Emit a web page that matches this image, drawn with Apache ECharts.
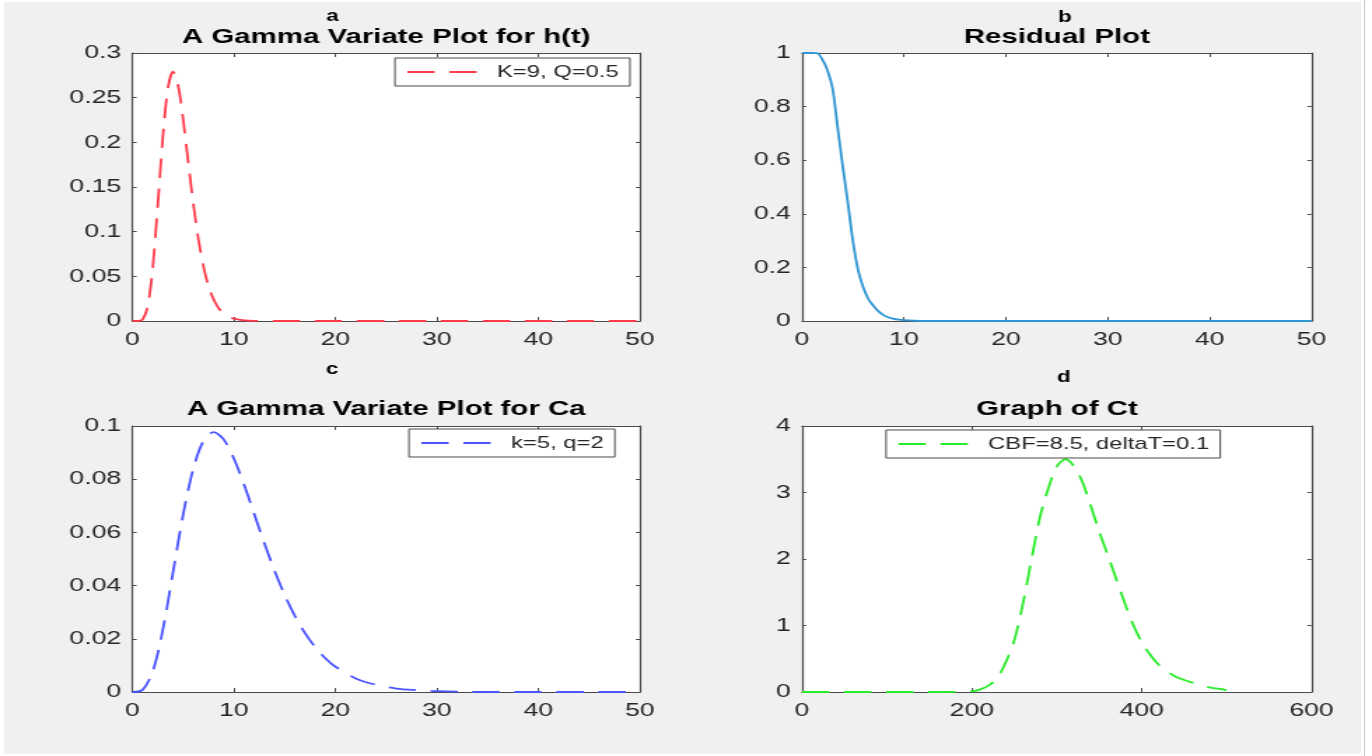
<!DOCTYPE html>
<html>
<head>
<meta charset="utf-8">
<title>Gamma variate, residual and tissue curves</title>
<script src="https://cdn.jsdelivr.net/npm/echarts@6/dist/echarts.min.js"></script>
<style>
  html, body { margin: 0; padding: 0; background: #ffffff; overflow: hidden; }
  #panel { position: absolute; left: 4px; top: 2px; width: 1357px; height: 752px; background: #f0f0f0; }
  #edge { position: absolute; left: 1364px; top: 0; width: 1px; height: 756px; background: #c8c8c8; }
  #chart { position: absolute; left: 0; top: 0; width: 980px; height: 756px; transform: scaleX(1.4); transform-origin: 0 0; }
</style>
</head>
<body>
<div id="panel"></div>
<div id="edge"></div>
<div id="chart"></div>
<script>
// (a) gamma variate h(t), K=9, Q=0.5
const hT = [0, 0.5, 1, 1.5, 2, 2.5, 3, 3.5, 4, 4.5, 5, 5.5, 6, 6.5, 7, 7.5, 8, 8.5, 9, 9.5, 10, 11, 12, 15, 20, 25, 30, 35, 40, 45, 50];
const hVals = [0, 0, 0.0017, 0.0162, 0.0595, 0.1306, 0.2065, 0.2608, 0.2791, 0.2635, 0.2252, 0.1775, 0.1310, 0.0915, 0.0609, 0.0389, 0.0240, 0.0143, 0.0083, 0.0047, 0.0026, 0.0008, 0.0002, 0, 0, 0, 0, 0, 0, 0, 0];

// (b) residual function R(t)
const resT = [0, 0.5, 1, 1.5, 2, 2.5, 3, 3.5, 4, 4.5, 5, 5.5, 6, 6.5, 7, 7.5, 8, 8.5, 9, 9.5, 10, 11, 12, 15, 20, 25, 30, 35, 40, 45, 50];
const resVals = [1, 1, 1, 0.999, 0.975, 0.935, 0.866, 0.72, 0.575, 0.44, 0.295, 0.19, 0.126, 0.082, 0.057, 0.036, 0.022, 0.013, 0.008, 0.005, 0.003, 0.001, 0, 0, 0, 0, 0, 0, 0, 0, 0];

// (c) gamma variate Ca, k=5, q=2
const caT = [0, 1, 2, 3, 4, 5, 6, 7, 8, 9, 10, 11, 12, 13, 14, 15, 16, 17, 18, 19, 20, 22, 24, 26, 28, 30, 33, 36, 40, 45, 49];
const caVals = [0, 0.0008, 0.0077, 0.0235, 0.0451, 0.0668, 0.0840, 0.0944, 0.0977, 0.0949, 0.0877, 0.0779, 0.0669, 0.0559, 0.0456, 0.0365, 0.0286, 0.0221, 0.0169, 0.0127, 0.0095, 0.0051, 0.0027, 0.0013, 0.0007, 0.0003, 0.0001, 0, 0, 0, 0];

// (d) tissue concentration Ct, CBF=8.5, deltaT=0.1
const ctT = [0, 50, 100, 150, 200, 210, 220, 230, 240, 250, 260, 270, 280, 290, 300, 310, 320, 330, 340, 350, 360, 370, 380, 390, 400, 410, 420, 430, 440, 450, 460, 470, 480, 490, 500];
const ctVals = [0, 0, 0, 0, 0.01, 0.04, 0.10, 0.21, 0.45, 0.78, 1.32, 1.98, 2.62, 3.06, 3.39, 3.50, 3.40, 3.16, 2.80, 2.41, 2.06, 1.70, 1.34, 1.01, 0.75, 0.56, 0.41, 0.31, 0.23, 0.18, 0.14, 0.10, 0.07, 0.05, 0.03];

// axis ranges per panel: [xMin, xMax, xStep, yMin, yMax, yStep]
const axisA = [0, 50, 10, 0, 0.3, 0.05];
const axisB = [0, 50, 10, 0, 1, 0.2];
const axisC = [0, 50, 10, 0, 0.1, 0.02];
const axisD = [0, 600, 200, 0, 4, 1];

const panelLetters = ['a', 'b', 'c', 'd'];
const panelTitles = ['A Gamma Variate Plot for h(t)', 'Residual Plot', 'A Gamma Variate Plot for Ca', 'Graph of Ct'];
const seriesNames = ['K=9, Q=0.5', 'Residual', 'k=5, q=2', 'CBF=8.5, deltaT=0.1'];

const FONT = '"Liberation Sans", Arial, Helvetica, sans-serif';
const AXIS_COLOR = '#4a4a4a';
const TEXT_COLOR = '#262626';
const DASH = [19.5, 10.5];
const LINE_W = 1.8;

const grids = [
  { left: 94.6, top: 53, width: 362.5, height: 268 },
  { left: 572.9, top: 53, width: 363.9, height: 268 },
  { left: 94.6, top: 426, width: 362.5, height: 266 },
  { left: 572.9, top: 426, width: 363.9, height: 266 }
];

function fmt(v) { return String(Math.round(v * 1e6) / 1e6); }

function xAxes(i, r) {
  const base = {
    type: 'value', gridIndex: i, min: r[0], max: r[1], interval: r[2],
    axisLine: { show: true, onZero: false, lineStyle: { color: AXIS_COLOR, width: 1.2 } },
    axisTick: { show: true, inside: true, length: 4, lineStyle: { color: AXIS_COLOR, width: 1 } },
    splitLine: { show: false }
  };
  return [
    Object.assign({}, base, { position: 'bottom',
      axisLabel: { show: true, margin: 9, fontSize: 19, fontFamily: FONT, color: TEXT_COLOR, showMinLabel: true, showMaxLabel: true, formatter: fmt } }),
    Object.assign({}, base, { position: 'top', axisLabel: { show: false } })
  ];
}

function yAxes(i, r) {
  const base = {
    type: 'value', gridIndex: i, min: r[3], max: r[4], interval: r[5],
    axisLine: { show: true, onZero: false, lineStyle: { color: AXIS_COLOR, width: 1.2 } },
    axisTick: { show: true, inside: true, length: 3, lineStyle: { color: AXIS_COLOR, width: 1 } },
    splitLine: { show: false }
  };
  return [
    Object.assign({}, base, { position: 'left',
      axisLabel: { show: true, margin: 8, fontSize: 19, fontFamily: FONT, color: TEXT_COLOR, showMinLabel: true, showMaxLabel: true, formatter: fmt } }),
    Object.assign({}, base, { position: 'right', axisLabel: { show: false } })
  ];
}

function pairs(ts, vs) { return ts.map((t, k) => [t, vs[k]]); }

const ranges = [axisA, axisB, axisC, axisD];
let xs = [], ys = [];
ranges.forEach((r, i) => { xs = xs.concat(xAxes(i, r)); ys = ys.concat(yAxes(i, r)); });

function lineSeries(i, name, ts, vs, color, type) {
  return {
    type: 'line', name: name, xAxisIndex: 2 * i, yAxisIndex: 2 * i,
    data: pairs(ts, vs), symbol: 'none', showSymbol: false, animation: false,
    smooth: 0.3,
    lineStyle: { color: color, width: LINE_W, type: type },
    itemStyle: { color: color }, z: 3
  };
}

const legendBase = {
  orient: 'horizontal', backgroundColor: '#ffffff', borderColor: AXIS_COLOR, borderWidth: 1,
  borderRadius: 0, padding: [4, 8, 4, 8], itemWidth: 50, itemHeight: 14, selectedMode: false,
  itemStyle: { opacity: 0 },
  lineStyle: { type: DASH, width: LINE_W },
  textStyle: { fontSize: 17, fontFamily: FONT, color: TEXT_COLOR, padding: [0, 0, 0, 9], lineHeight: 20 }
};

const textPos = [
  { letter: [237.5, 16.6], title: [275.9, 37.6] },
  { letter: [760.7, 17.4], title: [754.9, 37.6] },
  { letter: [237.1, 369.6], title: [275.9, 409.6] },
  { letter: [760.0, 377.1], title: [754.9, 409.6] }
];

const graphics = [];
textPos.forEach((p, i) => {
  graphics.push({ type: 'text', x: p.letter[0], y: p.letter[1], z: 10,
    style: { text: panelLetters[i], font: 'bold 16px ' + FONT, fill: '#000', align: 'center', verticalAlign: 'middle' } });
  graphics.push({ type: 'text', x: p.title[0], y: p.title[1], z: 10,
    style: { text: panelTitles[i], font: 'bold 21px ' + FONT, fill: '#000', align: 'center', verticalAlign: 'middle' } });
});

const chart = echarts.init(document.getElementById('chart'), null, { renderer: 'canvas' });
chart.setOption({
  backgroundColor: 'transparent',
  animation: false,
  grid: grids.map(g => Object.assign({ show: true, backgroundColor: '#ffffff', borderWidth: 0, containLabel: false }, g)),
  xAxis: xs,
  yAxis: ys,
  legend: [
    Object.assign({}, legendBase, { data: [seriesNames[0]], left: 282.1, top: 58 }),
    Object.assign({}, legendBase, { data: [seriesNames[2]], left: 292.1, top: 429 }),
    Object.assign({}, legendBase, { data: [seriesNames[3]], left: 632.9, top: 430 })
  ],
  graphic: graphics,
  series: [
    lineSeries(0, seriesNames[0], hT, hVals, '#ff3b4b', DASH),
    lineSeries(1, seriesNames[1], resT, resVals, '#2e95d3', 'solid'),
    lineSeries(2, seriesNames[2], caT, caVals, '#4a55ff', DASH),
    lineSeries(3, seriesNames[3], ctT, ctVals, '#2aec2a', DASH)
  ]
});
</script>
</body>
</html>
